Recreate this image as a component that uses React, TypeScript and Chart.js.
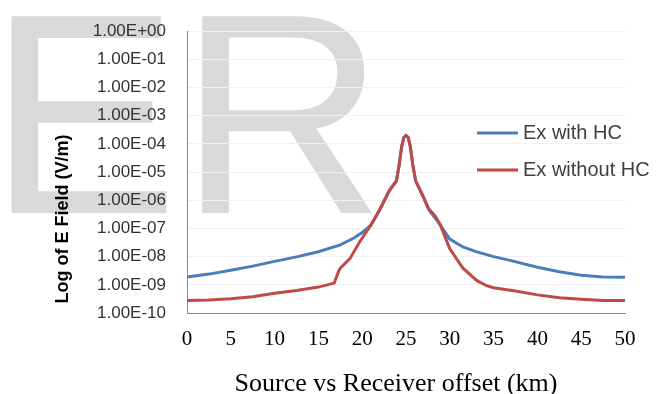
import { useEffect, useRef } from 'react';
import { Chart, registerables } from 'chart.js';

Chart.register(...registerables);

const seriesNames = ['Ex with HC', 'Ex without HC'];
const seriesColors = ['#4A7EBB', '#BE4B48'];

const withHcOffsetKm = [0, 2.5, 5, 7.5, 10, 12.5, 15, 17.5, 19, 20, 21, 22, 23.1, 23.9, 24.2, 24.5, 24.75, 25, 25.25, 25.5, 25.8, 26.1, 26.9, 27.6, 28.5, 30, 31.5, 33, 35, 37, 40, 42.5, 45, 47.5, 50];
const withHcField = [1.9e-9, 2.4e-9, 3.3e-9, 4.6e-9, 6.8e-9, 9.8e-9, 1.5e-8, 2.6e-8, 4.5e-8, 7.2e-8, 1.3e-7, 4.6e-7, 2.2e-6, 4.9e-6, 1.6e-5, 7.9e-5, 1.7e-4, 2.0e-4, 1.7e-4, 7.9e-5, 1.6e-5, 4.9e-6, 1.5e-6, 4.6e-7, 2.0e-7, 4.2e-8, 2.2e-8, 1.5e-8, 1.0e-8, 7.2e-9, 4.2e-9, 2.9e-9, 2.2e-9, 1.9e-9, 1.85e-9];

const withoutHcOffsetKm = [0, 2.5, 5, 7.5, 10, 12.5, 15, 16.8, 17.3, 17.5, 18.6, 19.7, 20.9, 22, 23.1, 23.9, 24.2, 24.5, 24.75, 25, 25.25, 25.5, 25.8, 26.1, 26.9, 27.6, 28.4, 28.9, 30, 31.5, 33.1, 34.2, 35, 37.5, 40, 42.5, 45, 47.5, 50];
const withoutHcField = [2.8e-10, 2.9e-10, 3.2e-10, 3.8e-10, 5.0e-10, 6.3e-10, 8.3e-10, 1.15e-9, 3.0e-9, 3.9e-9, 8.5e-9, 3.3e-8, 1.2e-7, 4.6e-7, 2.2e-6, 4.9e-6, 1.6e-5, 7.9e-5, 1.7e-4, 2.0e-4, 1.7e-4, 7.9e-5, 1.6e-5, 4.9e-6, 1.5e-6, 5.0e-7, 2.6e-7, 1.4e-7, 1.9e-8, 3.9e-9, 1.4e-9, 9.3e-10, 7.9e-10, 6.0e-10, 4.4e-10, 3.5e-10, 3.1e-10, 2.8e-10, 2.8e-10];

const xTickValues = [0, 5, 10, 15, 20, 25, 30, 35, 40, 45, 50];
const yTickValues = [1, 1e-1, 1e-2, 1e-3, 1e-4, 1e-5, 1e-6, 1e-7, 1e-8, 1e-9, 1e-10];
const yTickLabels = ['1.00E+00', '1.00E-01', '1.00E-02', '1.00E-03', '1.00E-04', '1.00E-05', '1.00E-06', '1.00E-07', '1.00E-08', '1.00E-09', '1.00E-10'];

const xAxisTitle = 'Source vs Receiver offset (km)';
const yAxisTitle = 'Log of E Field (V/m)';
const watermarkText = 'ER';

export default function App() {
  const canvasRef = useRef<HTMLCanvasElement | null>(null);

  useEffect(() => {
    document.body.style.margin = '0';
    const canvas = canvasRef.current;
    if (!canvas) return;

    const decorations = {
      id: 'decorations',
      beforeDraw(chart: any) {
        const ctx = chart.ctx;
        ctx.save();
        ctx.font = '286px "Liberation Sans"';
        ctx.fillStyle = '#d9d9d9';
        ctx.textBaseline = 'alphabetic';
        ctx.textAlign = 'left';
        ctx.fillText(watermarkText, -12, 213);
        ctx.restore();
      },
      afterDraw(chart: any) {
        const ctx = chart.ctx;
        ctx.save();
        ctx.translate(63, 219);
        ctx.rotate(-Math.PI / 2);
        ctx.font = 'bold 18px "Liberation Sans"';
        ctx.fillStyle = '#000';
        ctx.textAlign = 'center';
        ctx.textBaseline = 'middle';
        ctx.fillText(yAxisTitle, 0, 0);
        ctx.restore();

        ctx.save();
        ctx.font = '26px "Liberation Serif"';
        ctx.fillStyle = '#000';
        ctx.textAlign = 'center';
        ctx.textBaseline = 'middle';
        ctx.fillText(xAxisTitle, 396, 384);
        ctx.restore();

        ctx.save();
        const rows = [133, 170];
        chart.data.datasets.forEach((ds: any, i: number) => {
          const y = rows[i];
          ctx.strokeStyle = ds.borderColor;
          ctx.lineWidth = 3;
          ctx.beginPath();
          ctx.moveTo(477, y);
          ctx.lineTo(518, y);
          ctx.stroke();
          ctx.font = '20px "Liberation Sans"';
          ctx.fillStyle = '#404040';
          ctx.textAlign = 'left';
          ctx.textBaseline = 'middle';
          ctx.fillText(ds.label, 523, y);
        });
        ctx.restore();
      },
    };

    const chart = new Chart(canvas, {
      type: 'line',
      data: {
        datasets: [
          {
            label: seriesNames[0],
            data: withHcOffsetKm.map((x, i) => ({ x, y: withHcField[i] })),
            borderColor: seriesColors[0],
            backgroundColor: seriesColors[0],
            borderWidth: 3,
            pointRadius: 0,
            tension: 0,
            order: 1,
          },
          {
            label: seriesNames[1],
            data: withoutHcOffsetKm.map((x, i) => ({ x, y: withoutHcField[i] })),
            borderColor: seriesColors[1],
            backgroundColor: seriesColors[1],
            borderWidth: 3,
            pointRadius: 0,
            tension: 0,
            order: 0,
          },
        ],
      },
      options: {
        responsive: false,
        animation: false,
        devicePixelRatio: 1,
        layout: { padding: { left: 0, right: 35, top: 28, bottom: 41 } },
        plugins: { legend: { display: false }, tooltip: { enabled: false } },
        scales: {
          x: {
            type: 'linear',
            min: 0,
            max: 50,
            afterBuildTicks: (s: any) => {
              s.ticks = xTickValues.map((v) => ({ value: v }));
            },
            afterFit: (s: any) => {
              s.height = 40;
            },
            ticks: {
              font: { family: 'Liberation Serif', size: 21 },
              color: '#000',
              padding: 14,
              maxRotation: 0,
              autoSkip: false,
            },
            grid: { display: false, drawTicks: false },
            border: { color: '#8c8c8c', width: 1 },
          },
          y: {
            type: 'logarithmic',
            min: 1e-10,
            max: 1,
            afterBuildTicks: (s: any) => {
              s.ticks = yTickValues.map((v) => ({ value: v }));
            },
            afterFit: (s: any) => {
              s.width = 187;
            },
            ticks: {
              callback: (v: any) => yTickLabels[yTickValues.indexOf(Number(v))] ?? '',
              font: { family: 'Liberation Sans', size: 17 },
              color: '#333333',
              padding: 21,
              autoSkip: false,
            },
            grid: { color: '#f0f0f0', drawTicks: false },
            border: { color: '#8c8c8c', width: 1 },
          },
        },
      },
      plugins: [decorations],
    } as any);

    return () => chart.destroy();
  }, []);

  return (
    <div style={{ width: 660, height: 394, position: 'relative' }}>
      <canvas ref={canvasRef} width={660} height={394} style={{ display: 'block' }} />
    </div>
  );
}
